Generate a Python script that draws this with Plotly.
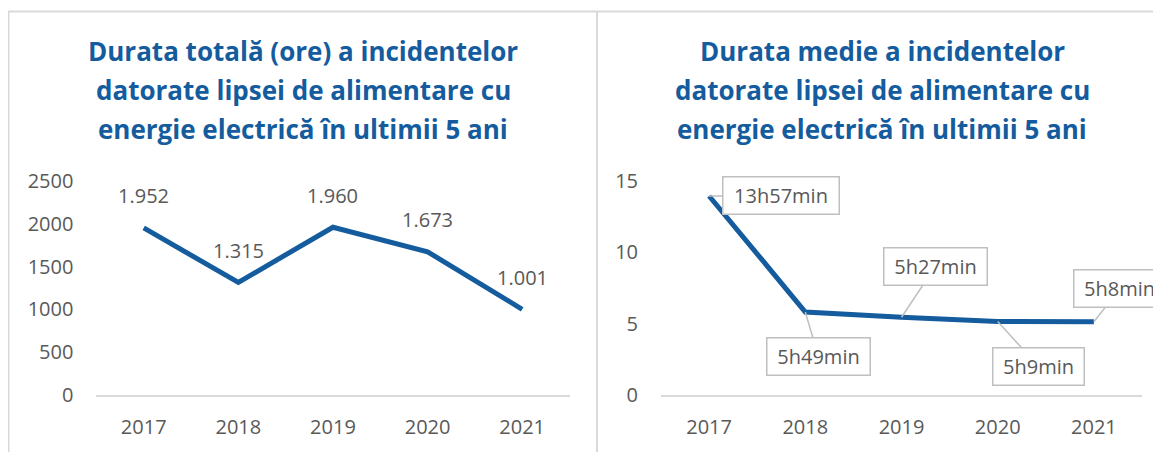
import plotly.graph_objects as go

W, H = 1161, 452
OFF = 8  # the page places the figure 8px from the window's top-left corner

years = ["2017", "2018", "2019", "2020", "2021"]
total_hours = [1952, 1315, 1960, 1673, 1001]
avg_hours = [13 + 57/60, 5 + 49/60, 5 + 27/60, 5 + 9/60, 5 + 8/60]
avg_labels = ["13h57min", "5h49min", "5h27min", "5h9min", "5h8min"]
left_yticks = [0, 500, 1000, 1500, 2000, 2500]
right_yticks = [0, 5, 10, 15]
title_left = ["Durata totală (ore) a incidentelor",
              "datorate lipsei de alimentare cu",
              "energie electrică în ultimii 5 ani"]
title_right = ["Durata medie a incidentelor",
               "datorate lipsei de alimentare cu",
               "energie electrică în ultimii 5 ani"]

BLUE = "#145C9E"
TXT = "#595959"
GRID = "#D9D9D9"
FONT = "Open Sans"


def px(x):
    return (x - OFF) / W


def py(y):
    return 1 - (y - OFF) / H


fig = go.Figure()
fig.add_trace(go.Scatter(x=years, y=total_hours, mode="lines",
                         line=dict(color=BLUE, width=5),
                         xaxis="x", yaxis="y", hoverinfo="skip"))
fig.add_trace(go.Scatter(x=years, y=avg_hours, mode="lines",
                         line=dict(color=BLUE, width=5),
                         xaxis="x2", yaxis="y2", hoverinfo="skip"))

ydom = [py(395), py(181)]
common_x = dict(type="category", range=[-0.5, 4.5], showgrid=False,
                showline=True, linecolor=GRID, linewidth=2, ticks="",
                tickfont=dict(family=FONT, size=20, color=TXT),
                ticklabelstandoff=13, zeroline=False, fixedrange=True,
                automargin=False)
common_y = dict(showgrid=False, showline=False, zeroline=False, ticks="",
                tickfont=dict(family=FONT, size=20, color=TXT),
                ticklabelstandoff=22, fixedrange=True, automargin=False)

fig.update_layout(
    width=W, height=H,
    autosize=False,
    margin=dict(l=0, r=0, t=0, b=0, pad=0),
    paper_bgcolor="white", plot_bgcolor="white",
    showlegend=False,
    xaxis=dict(domain=[px(96.4), px(569.5)], anchor="y", **common_x),
    yaxis=dict(domain=ydom, anchor="x", range=[0, 2500],
               tickvals=left_yticks, ticktext=[str(v) for v in left_yticks],
               **common_y),
    xaxis2=dict(domain=[px(661), px(1142)], anchor="y2", **common_x),
    yaxis2=dict(domain=ydom, anchor="x2", range=[0, 15],
                tickvals=right_yticks, ticktext=[str(v) for v in right_yticks],
                **common_y),
)

# frame lines
shapes = [
    dict(type="line", xref="paper", yref="paper", x0=px(8), x1=1.0,
         y0=py(11.5), y1=py(11.5), line=dict(color=GRID, width=2)),
    dict(type="line", xref="paper", yref="paper", x0=px(8.5), x1=px(8.5),
         y0=py(11.5), y1=0, line=dict(color=GRID, width=2)),
    dict(type="line", xref="paper", yref="paper", x0=px(597), x1=px(597),
         y0=py(11.5), y1=0, line=dict(color=GRID, width=2)),
]
fig.update_layout(shapes=shapes)

annotations = []
# titles
for i, line in enumerate(title_left):
    annotations.append(dict(xref="paper", yref="paper", x=px(303), y=py(51 + 39 * i),
                            text=f"<b>{line}</b>", showarrow=False,
                            xanchor="center", yanchor="middle",
                            font=dict(family=FONT, size=26, color=BLUE)))
for i, line in enumerate(title_right):
    annotations.append(dict(xref="paper", yref="paper", x=px(882), y=py(51 + 39 * i),
                            text=f"<b>{line}</b>", showarrow=False,
                            xanchor="center", yanchor="middle",
                            font=dict(family=FONT, size=26, color=BLUE)))

# left data labels (category index positions)
for i, v in enumerate(total_hours):
    annotations.append(dict(xref="x", yref="y", x=i, y=v,
                            text=f"{v:,}".replace(",", "."), showarrow=False,
                            yshift=32, xanchor="center", yanchor="middle",
                            font=dict(family=FONT, size=20, color=TXT)))

# right callouts (offset of box centre from point, in pixels)
offsets = [(72, 0, 113), (13, 44, 100), (34, -51, 100), (41, 45, 88), (26, -33, 88)]
for i, (v, lab, (ax, ay, w)) in enumerate(zip(avg_hours, avg_labels, offsets)):
    annotations.append(dict(xref="x2", yref="y2", x=i, y=v, text=lab,
                            showarrow=True, arrowhead=0, arrowwidth=1.5,
                            arrowcolor="#BFBFBF", ax=ax, ay=ay,
                            axref="pixel", ayref="pixel",
                            bordercolor="#BFBFBF", borderwidth=1.5,
                            bgcolor="white", width=w, height=34,
                            xanchor="center", yanchor="middle",
                            font=dict(family=FONT, size=20, color=TXT)))

fig.update_layout(annotations=annotations)

fig.write_html("out.html")
